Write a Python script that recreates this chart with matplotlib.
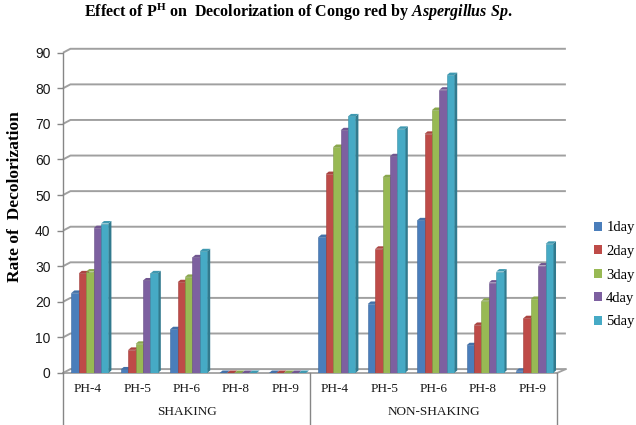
import numpy as np
import matplotlib
matplotlib.use("Agg")
import matplotlib.pyplot as plt
from matplotlib.patches import Patch
from matplotlib.colors import to_rgb

# ---- data -------------------------------------------------------------
ph_levels = ["PH-4", "PH-5", "PH-6", "PH-8", "PH-9"]
conditions = ["SHAKING", "NON-SHAKING"]
series_names = ["1day", "2day", "3day", "4day", "5day"]

# decolorization rate, shaking (PH-4 .. PH-9)
shaking = {
    "1day": [22.5, 1.0, 12.3, 0.0, 0.0],
    "2day": [28.0, 6.5, 25.5, 0.0, 0.0],
    "3day": [28.5, 8.2, 27.0, 0.0, 0.0],
    "4day": [40.7, 26.0, 32.5, 0.0, 0.0],
    "5day": [42.0, 28.0, 34.2, 0.0, 0.0],
}
# decolorization rate, non-shaking (PH-4 .. PH-9)
non_shaking = {
    "1day": [38.2, 19.4, 42.9, 7.8, 0.6],
    "2day": [55.9, 34.9, 67.2, 13.5, 15.4],
    "3day": [63.5, 55.0, 73.9, 20.3, 20.8],
    "4day": [68.2, 60.9, 79.6, 25.4, 30.2],
    "5day": [72.1, 68.6, 83.7, 28.5, 36.3],
}
y_ticks = [0, 10, 20, 30, 40, 50, 60, 70, 80, 90]

colors = ["#4A7EBB", "#BE4B48", "#98B954", "#7D60A0", "#46AAC5"]

# ---- fonts ------------------------------------------------------------
plt.rcParams["mathtext.fontset"] = "custom"
plt.rcParams["mathtext.rm"] = "Liberation Serif:bold"
plt.rcParams["mathtext.bf"] = "Liberation Serif:bold"
plt.rcParams["mathtext.it"] = "Liberation Serif:italic:bold"

W, H = 636, 425
fig = plt.figure(figsize=(W / 100, H / 100), dpi=100)
ax = fig.add_axes([63 / W, (H - 373) / H, 494 / W, 320.3 / H])

n_cat = len(ph_levels) * len(conditions)
ax.set_xlim(0, n_cat)
ax.set_ylim(0, 90)

# back wall offset (pseudo 3-D)
wall_dx, wall_dy = 0.18, 1.1
grid_col = "#A0A0A0"
for t in y_ticks:
    ax.plot([0, 0.15, n_cat + wall_dx], [t, t + wall_dy, t + wall_dy],
            color=grid_col, lw=1.4, zorder=1, clip_on=False,
            solid_capstyle="butt")
# floor edges
ax.plot([0, n_cat], [0, 0], color=grid_col, lw=1.3, zorder=1, clip_on=False)
ax.plot([n_cat, n_cat + wall_dx], [0, wall_dy], color=grid_col, lw=1.3,
        zorder=1, clip_on=False)

# ---- bars -------------------------------------------------------------
bar_w = 0.15
start = 0.17
depth_dx, depth_dy = 0.06, 0.7
cat_base = np.arange(n_cat)


def shade(c, f):
    r, g, b = to_rgb(c)
    return (r * f, g * f, b * f)


def lighten(c, f):
    r, g, b = to_rgb(c)
    return (r + (1 - r) * f, g + (1 - g) * f, b + (1 - b) * f)


for j, name in enumerate(series_names):
    vals = np.array(shaking[name] + non_shaking[name])
    left = cat_base + start + j * bar_w
    col = colors[j]
    for x0, v in zip(left, vals):
        x1 = x0 + bar_w
        # right side face
        ax.fill([x1, x1, x1 + depth_dx, x1 + depth_dx],
                [0, v, v + depth_dy, depth_dy],
                color=shade(col, 0.72), lw=0, zorder=2 + 2 * j)
        # top face
        ax.fill([x0, x1, x1 + depth_dx, x0 + depth_dx],
                [v, v, v + depth_dy, v + depth_dy],
                color=shade(col, 0.9), lw=0, zorder=2 + 2 * j)
    ax.bar(left, vals, width=bar_w, align="edge", color=col,
           edgecolor=shade(col, 0.85), linewidth=0.4, zorder=3 + 2 * j)

# ---- axes styling ------------------------------------------------------
for s in ["top", "right", "bottom"]:
    ax.spines[s].set_visible(False)
ax.spines["left"].set_color("#868686")
ax.spines["left"].set_linewidth(1.0)
ax.set_yticks(y_ticks)
ax.tick_params(axis="y", length=4, width=1.0, color="#868686", pad=5,
               labelsize=10, labelcolor="#1a1a1a")
for lbl in ax.get_yticklabels():
    lbl.set_fontfamily("Liberation Sans")
ax.set_xticks([])

# category and group labels below the floor
for i, c in enumerate(conditions):
    for k, p in enumerate(ph_levels):
        ax.text(i * len(ph_levels) + k + 0.5, -4.6, p, ha="center",
                va="center", fontsize=9.5, family="Liberation Serif",
                color="#1a1a1a")
    ax.text(i * len(ph_levels) + len(ph_levels) / 2, -11.0, c, ha="center",
            va="center", fontsize=9.5, family="Liberation Serif",
            color="#1a1a1a")
for xs in [0, len(ph_levels), n_cat]:
    ax.plot([xs, xs], [0, -20], color="#868686", lw=1.0, clip_on=False,
            zorder=1)

# ---- legend ------------------------------------------------------------
handles = [Patch(facecolor=c, edgecolor="none") for c in colors]
ax.legend(handles, series_names, loc="center left",
          bbox_to_anchor=(588 / W, (H - 275) / H),
          bbox_transform=fig.transFigure, frameon=False,
          prop={"family": "Liberation Serif", "size": 10.5},
          handlelength=0.55, handleheight=0.55, handletextpad=0.3,
          labelspacing=0.72, borderaxespad=0)

# ---- titles ------------------------------------------------------------
fig.text(298 / W, 1 - 12.5 / H,
         r"Effect of P$^{\mathrm{H}}$ on  Decolorization of Congo red by "
         r"$\mathit{Aspergillus\ Sp.}$",
         ha="center", va="center", fontsize=11.5, fontweight="bold",
         family="Liberation Serif")
fig.text(15 / W, (H - 197) / H, "Rate of  Decolorization", rotation=90,
         ha="center", va="center", fontsize=12.5, fontweight="bold",
         family="Liberation Serif")

fig.savefig("out.png", dpi=100)
